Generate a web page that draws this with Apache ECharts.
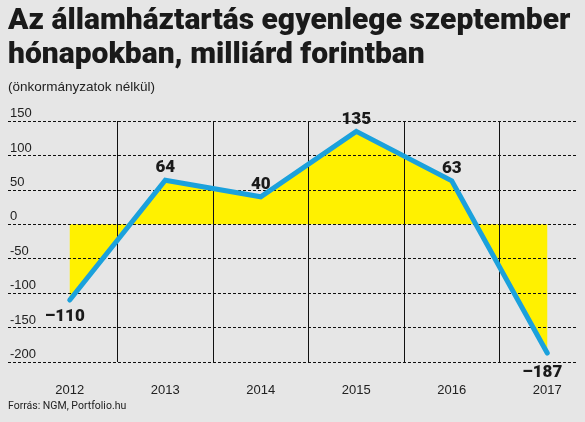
<!DOCTYPE html>
<html><head><meta charset="utf-8">
<script src="https://cdn.jsdelivr.net/npm/echarts@6/dist/echarts.min.js"></script>
<style>html,body{margin:0;padding:0;background:#e6e6e6}#c{width:585px;height:422px}</style>
</head><body><div id="c"></div>
<script>
const years = ['2012','2013','2014','2015','2016','2017'];
const balance = [-110, 64, 40, 135, 63, -187];
const yTicks = {min: -200, max: 150, interval: 50};
const titleText = 'Az államháztartás egyenlege szeptember\nhónapokban, milliárd forintban';
const subtitleText = '(önkormányzatok nélkül)';
const sourceText = 'Forrás: NGM, Portfolio.hu';

const chart = echarts.init(document.getElementById('c'));
const sans = '"Liberation Sans", Arial, sans-serif';
chart.setOption({
  backgroundColor: '#e6e6e6',
  animation: false,
  title: [
    {text: titleText, left: 3, top: -1,
     textStyle: {fontFamily: 'Roboto', fontWeight: 900, fontSize: 30, lineHeight: 34, color: '#1a1a1a'}},
    {text: subtitleText, left: 3, top: 75,
     textStyle: {fontFamily: sans, fontWeight: 'normal', fontSize: 13.5, color: '#222'}},
    {text: sourceText, left: 3, top: 396,
     textStyle: {fontFamily: 'Roboto', fontWeight: 'normal', fontSize: 10.5, color: '#222'}}
  ],
  grid: [
    {left: 8, width: 570, top: 121, height: 241, show: false, outerBoundsMode: 'none', containLabel: false},
    {left: 22, width: 573, top: 121, height: 241, show: false, outerBoundsMode: 'none', containLabel: false}
  ],
  xAxis: [
    {gridIndex: 0, type: 'value', min: 0, max: 1, show: false},
    {gridIndex: 1, type: 'category', data: years, boundaryGap: true,
     axisLine: {show: false}, axisTick: {show: false},
     axisLabel: {margin: 22, fontFamily: sans, fontSize: 13, color: '#222'},
     splitLine: {show: true, showMinLine: false, showMaxLine: false, lineStyle: {color: '#111', width: 1}}}
  ],
  yAxis: [
    {gridIndex: 0, type: 'value', min: yTicks.min, max: yTicks.max, interval: yTicks.interval,
     axisLine: {show: false}, axisTick: {show: false},
     axisLabel: {inside: true, margin: 2, verticalAlign: 'bottom', padding: [0,0,1,0],
                 fontFamily: sans, fontSize: 13, color: '#222'},
     splitLine: {show: true, lineStyle: {color: '#111', width: 1, type: [3, 2]}}},
    {gridIndex: 1, type: 'value', min: yTicks.min, max: yTicks.max, interval: yTicks.interval, show: false,
     splitLine: {show: false}}
  ],
  series: [
    {type: 'line', xAxisIndex: 1, yAxisIndex: 1, data: balance, z: -1, symbol: 'none',
     lineStyle: {width: 0}, areaStyle: {color: '#fff100', opacity: 1, origin: 0}, silent: true},
    {type: 'line', xAxisIndex: 1, yAxisIndex: 1, z: 5, symbol: 'circle', symbolSize: 1, showSymbol: true,
     itemStyle: {color: '#1ba1dc'},
     lineStyle: {width: 5, color: '#1ba1dc', cap: 'round', join: 'miter'},
     label: {show: true, fontFamily: 'Roboto', fontWeight: 900, fontSize: 17, color: '#1a1a1a',
       formatter: p => (p.value < 0 ? '–' + Math.abs(p.value) : String(p.value)),
       position: 'top', distance: 3},
     data: balance.map((v, i) => ({value: v,
        label: v < 0 ? {position: 'bottom', distance: i === 0 ? 8 : 11, offset: [-5, 0]} : {}}))}
  ]
});
</script></body></html>
